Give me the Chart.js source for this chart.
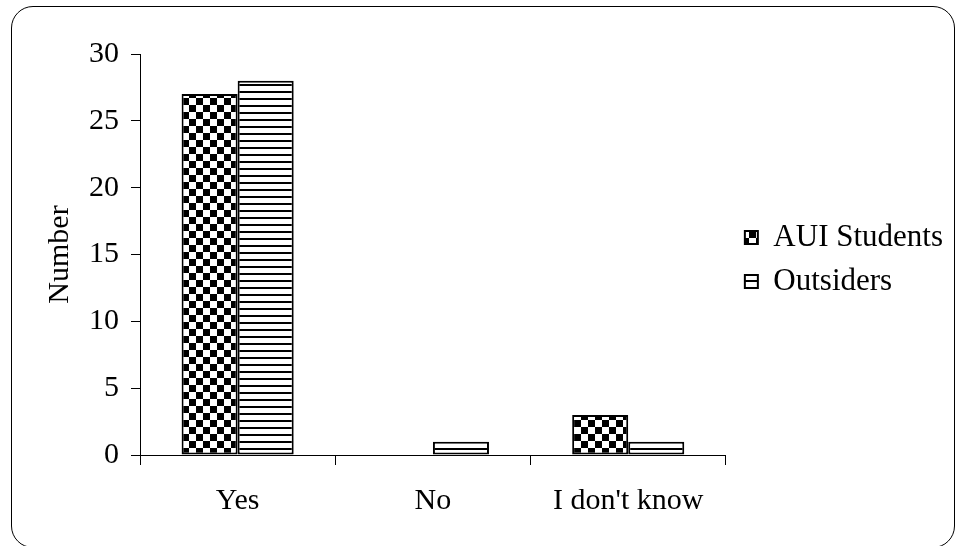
<!DOCTYPE html>
<html>
<head>
<meta charset="utf-8">
<script src="https://cdn.jsdelivr.net/npm/chart.js@4/dist/chart.umd.min.js"></script>
<style>
  html, body { margin: 0; padding: 0; background: #fff; }
  #wrap { position: relative; width: 957px; height: 546px; overflow: hidden; }
  #frame { position: absolute; left: 11px; top: 6px; width: 944px; height: 542px;
           border: 1.5px solid #000; border-radius: 22px; pointer-events: none; box-sizing: border-box; }
</style>
</head>
<body>
<div id="wrap">
  <canvas id="chart" width="957" height="546"></canvas>
  <div id="frame"></div>
</div>
<script>
const categories = ['Yes', 'No', "I don't know"];
const auiStudents = [27, 0, 3];
const outsiders = [28, 1, 1];
const seriesNames = ['AUI Students', 'Outsiders'];

// motifs noir et blanc
function checkerPattern(ctx) {
    const c = document.createElement('canvas');
    c.width = 14; c.height = 14;
    const g = c.getContext('2d');
    g.fillStyle = '#fff'; g.fillRect(0, 0, 14, 14);
    g.fillStyle = '#000';
    g.fillRect(0, 0, 7, 7);
    g.fillRect(7, 7, 7, 7);
    return ctx.createPattern(c, 'repeat');
}
function stripePattern(ctx) {
    const c = document.createElement('canvas');
    c.width = 8; c.height = 7;
    const g = c.getContext('2d');
    g.fillStyle = '#fff'; g.fillRect(0, 0, 8, 7);
    g.fillStyle = '#000'; g.fillRect(0, 0, 8, 2);
    return ctx.createPattern(c, 'repeat');
}

const serif = 'Liberation Serif';
const canvas = document.getElementById('chart');
const ctx = canvas.getContext('2d');

const legendShift = {
    id: 'legendShift',
    afterLayout(chart) {
        const lg = chart.legend;
        if (lg) {
            lg.left += 6; lg.right += 6;
            lg.top += 5; lg.bottom += 5;
        }
    }
};

new Chart(ctx, {
    type: 'bar',
    data: {
        labels: categories,
        datasets: [
            {
                label: seriesNames[0],
                data: auiStudents,
                backgroundColor: checkerPattern(ctx),
                borderColor: '#000',
                borderWidth: 2,
                borderSkipped: false
            },
            {
                label: seriesNames[1],
                data: outsiders,
                backgroundColor: stripePattern(ctx),
                borderColor: '#000',
                borderWidth: 2,
                borderSkipped: false
            }
        ]
    },
    options: {
        responsive: false,
        animation: false,
        devicePixelRatio: 1,
        datasets: { bar: { categoryPercentage: 0.574, barPercentage: 1.0 } },
        layout: { padding: { top: 54, left: 0, right: 10, bottom: 0 } },
        plugins: {
            tooltip: { enabled: false },
            legend: {
                position: 'right',
                fullSize: false,
                labels: {
                    color: '#000',
                    font: { family: serif, size: 31 },
                    boxWidth: 13,
                    boxHeight: 13,
                    padding: 13
                }
            }
        },
        scales: {
            x: {
                grid: { display: true, drawOnChartArea: false, color: '#000', tickLength: 10, offset: true },
                border: { display: true, color: '#000', width: 1 },
                ticks: { color: '#000', font: { family: serif, size: 30 }, padding: 18 },
                afterFit(scale) { scale.height = 91; }
            },
            y: {
                min: 0,
                max: 30,
                ticks: { stepSize: 5, color: '#000', font: { family: serif, size: 30 }, padding: 12 },
                grid: { display: true, drawOnChartArea: false, color: '#000', tickLength: 9 },
                border: { display: true, color: '#000', width: 1 },
                title: {
                    display: true,
                    text: 'Number',
                    color: '#000',
                    font: { family: serif, size: 30 },
                    padding: { top: 42, bottom: 0 }
                },
                afterFit(scale) { scale.width = 140; }
            }
        }
    },
    plugins: [legendShift]
});
</script>
</body>
</html>
